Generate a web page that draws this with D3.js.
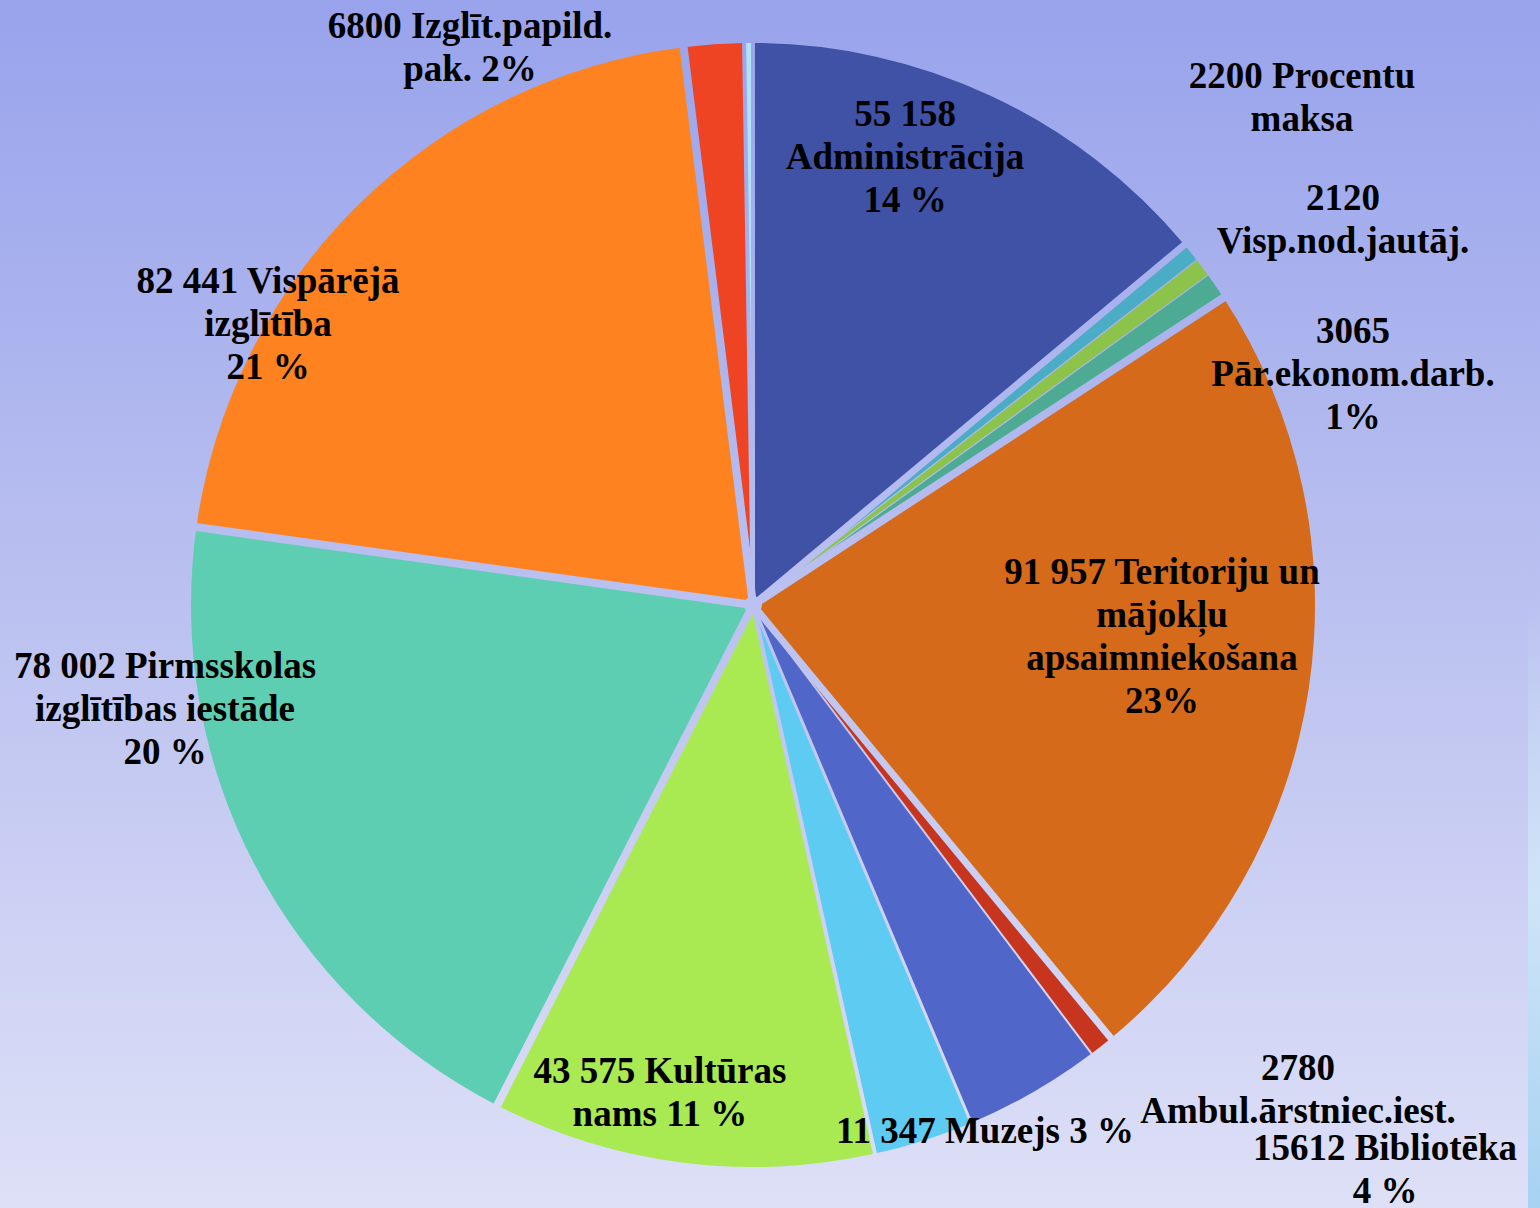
<!DOCTYPE html>
<html>
<head>
<meta charset="utf-8">
<script src="https://cdn.jsdelivr.net/npm/d3@7/dist/d3.min.js"></script>
<style>
  html, body { margin: 0; padding: 0; overflow: hidden; }
  svg { display: block; }
</style>
</head>
<body>
<svg id="chart" width="1540" height="1208"></svg>
<script>
// ---- data ----
const categories = [
  "Administrācija", "Procentu maksa", "Visp.nod.jautāj.", "Pār.ekonom.darb.",
  "Teritoriju un mājokļu apsaimniekošana", "Ambul.ārstniec.iest.", "Bibliotēka",
  "Muzejs", "Kultūras nams", "Pirmsskolas izglītības iestāde", "Vispārējā izglītība",
  "Izglīt.papild.pak.", "Citi"
];
const values = [55158, 2200, 2120, 3065, 91957, 2780, 15612, 11347, 43575, 78002, 82441, 6800, 1000];
const labelLines = [
  ["55 158", "Administrācija", "14 %"],
  ["2200 Procentu", "maksa"],
  ["2120", "Visp.nod.jautāj."],
  ["3065", "Pār.ekonom.darb.", "1%"],
  ["91 957 Teritoriju un", "mājokļu", "apsaimniekošana", "23%"],
  ["2780", "Ambul.ārstniec.iest."],
  ["15612 Bibliotēka", "4 %"],
  ["11 347 Muzejs 3 %"],
  ["43 575 Kultūras", "nams 11 %"],
  ["78 002 Pirmsskolas", "izglītības iestāde", "20 %"],
  ["82 441 Vispārējā", "izglītība", "21 %"],
  ["6800 Izglīt.papild.", "pak. 2%"],
  []
];

// ---- styling / layout ----
const colors = ["#3F52A6", "#4BACC6", "#8CC34A", "#4CAB92", "#D46A1A", "#C8351F", "#5066C9",
                "#5ECBF2", "#A9E952", "#5ECEB2", "#FE8220", "#EE4424", "#B0E2F8"];
// gap width at the start boundary of each slice
const gapWidths = [4, 7, 1.2, 1.2, 8, 7, 2, 3, 4, 8, 8, 8, 4];
// label anchor (center x, center y of first line)
const labelPos = [
  [905, 113], [1302, 75], [1343, 197], [1353, 330], [1162, 571], [1298, 1067],
  [1385, 1147], [985, 1130], [660, 1070], [165, 665], [268, 280], [470, 25], [0, 0]
];
const lineH = 43;
const fontSize = 37;
const fontFamily = "Liberation Serif";

const W = 1540, H = 1208;
const cx = 753, cy = 605, R = 562;

const svg = d3.select("#chart");
const defs = svg.append("defs");
const bg = defs.append("linearGradient").attr("id", "bgGrad")
  .attr("gradientUnits", "userSpaceOnUse").attr("x1", 0).attr("y1", 0).attr("x2", 0).attr("y2", H);
bg.append("stop").attr("offset", "0").attr("stop-color", "#98A3EC");
bg.append("stop").attr("offset", "0.5").attr("stop-color", "#BBC1F0");
bg.append("stop").attr("offset", "1").attr("stop-color", "#DEE0F7");

const strip = defs.append("linearGradient").attr("id", "stripGrad")
  .attr("gradientUnits", "userSpaceOnUse").attr("x1", 0).attr("y1", 0).attr("x2", 0).attr("y2", H);
strip.append("stop").attr("offset", "0.5").attr("stop-color", "#C8E0F8").attr("stop-opacity", 0);
strip.append("stop").attr("offset", "0.74").attr("stop-color", "#CFE4F8").attr("stop-opacity", 1);
strip.append("stop").attr("offset", "1").attr("stop-color", "#A6D2F0").attr("stop-opacity", 1);

svg.append("rect").attr("width", W).attr("height", H).attr("fill", "url(#bgGrad)");
svg.append("rect").attr("x", 1528).attr("width", 12).attr("height", H).attr("fill", "url(#stripGrad)");

const data = categories.map((c, i) => ({ name: c, value: values[i], i }));
const pie = d3.pie().sort(null).value(d => d.value).startAngle(0).endAngle(2 * Math.PI);
const arcs = pie(data);
const arc = d3.arc().innerRadius(0).outerRadius(R);

const g = svg.append("g").attr("transform", `translate(${cx},${cy})`);
g.selectAll("path.slice").data(arcs).join("path")
  .attr("class", "slice")
  .attr("d", arc)
  .attr("fill", d => colors[d.data.i]);

// gaps between slices (drawn in absolute coords so the gradient lines up)
const gapG = svg.append("g");
arcs.forEach(d => {
  const a = d.startAngle;
  const x2 = cx + Math.sin(a) * (R + 12);
  const y2 = cy - Math.cos(a) * (R + 12);
  gapG.append("line")
    .attr("x1", cx).attr("y1", cy).attr("x2", x2).attr("y2", y2)
    .attr("stroke", "url(#bgGrad)")
    .attr("stroke-width", gapWidths[d.data.i]);
});
gapG.append("circle").attr("cx", cx).attr("cy", cy).attr("r", 9).attr("fill", "url(#bgGrad)");

// labels
const lg = svg.append("g");
arcs.forEach(d => {
  const lines = labelLines[d.data.i];
  if (!lines.length) return;
  const [lx, ly] = labelPos[d.data.i];
  const t = lg.append("text")
    .attr("text-anchor", "middle")
    .style("font-family", fontFamily)
    .style("font-weight", "700")
    .style("font-size", fontSize + "px")
    .attr("fill", "#000");
  lines.forEach((s, j) => {
    t.append("tspan").attr("x", lx).attr("y", ly + j * lineH + fontSize * 0.34).text(s);
  });
});
</script>
</body>
</html>
